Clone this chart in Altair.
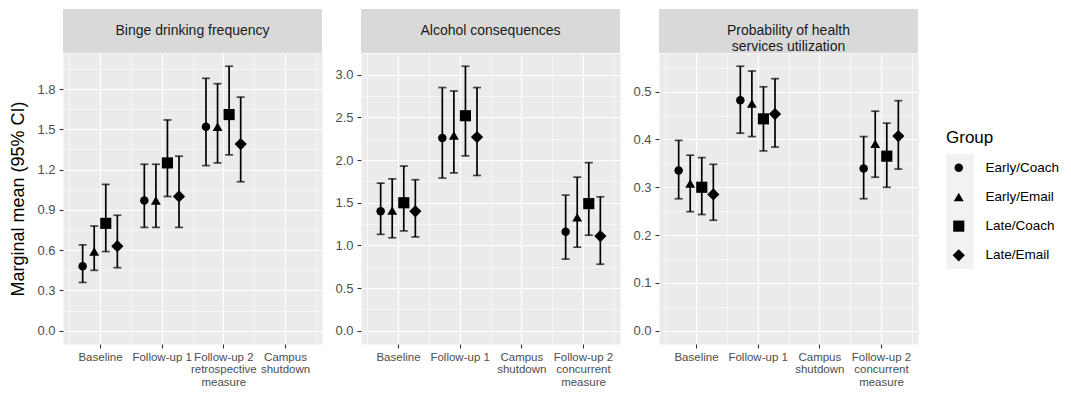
import json
import numpy as np
import pandas as pd
import altair as alt

FONT = "Liberation Sans"

groups = ["Early/Coach", "Early/Email", "Late/Coach", "Late/Email"]
group_shapes = ["circle", "triangle-up", "square", "diamond"]
group_sizes = [72, 150, 58, 64]

# ---- Panel 1: Binge drinking frequency
binge_title = "Binge drinking frequency"
binge_axis = ["Baseline", "Follow-up 1", "Follow-up 2\nretrospective\nmeasure", "Campus\nshutdown"]
binge_times = ["Baseline", "Follow-up 1", "Follow-up 2\nretrospective\nmeasure"]
binge_mean = [[0.48, 0.59, 0.80, 0.63],
              [0.97, 0.97, 1.25, 1.00],
              [1.52, 1.52, 1.61, 1.39]]
binge_low = [[0.36, 0.45, 0.59, 0.47],
             [0.77, 0.77, 1.00, 0.77],
             [1.23, 1.25, 1.31, 1.11]]
binge_high = [[0.64, 0.78, 1.09, 0.86],
              [1.24, 1.24, 1.57, 1.30],
              [1.88, 1.84, 1.97, 1.74]]
binge_ticks = [0.0, 0.3, 0.6, 0.9, 1.2, 1.5, 1.8]

# ---- Panel 2: Alcohol consequences
alc_title = "Alcohol consequences"
alc_axis = ["Baseline", "Follow-up 1", "Campus\nshutdown", "Follow-up 2\nconcurrent\nmeasure"]
alc_times = ["Baseline", "Follow-up 1", "Follow-up 2\nconcurrent\nmeasure"]
alc_mean = [[1.40, 1.41, 1.50, 1.40],
            [2.26, 2.29, 2.52, 2.27],
            [1.16, 1.33, 1.49, 1.11]]
alc_low = [[1.13, 1.09, 1.17, 1.10],
           [1.79, 1.85, 2.05, 1.82],
           [0.84, 0.98, 1.12, 0.78]]
alc_high = [[1.73, 1.78, 1.93, 1.77],
            [2.85, 2.81, 3.10, 2.85],
            [1.59, 1.80, 1.97, 1.57]]
alc_ticks = [0.0, 0.5, 1.0, 1.5, 2.0, 2.5, 3.0]

# ---- Panel 3: Probability of health services utilization
hs_title = "Probability of health\nservices utilization"
hs_axis = ["Baseline", "Follow-up 1", "Campus\nshutdown", "Follow-up 2\nconcurrent\nmeasure"]
hs_times = ["Baseline", "Follow-up 1", "Follow-up 2\nconcurrent\nmeasure"]
hs_mean = [[0.335, 0.308, 0.300, 0.285],
           [0.482, 0.475, 0.443, 0.453],
           [0.339, 0.391, 0.365, 0.407]]
hs_low = [[0.276, 0.249, 0.243, 0.231],
          [0.413, 0.406, 0.376, 0.384],
          [0.276, 0.321, 0.300, 0.338]]
hs_high = [[0.398, 0.367, 0.362, 0.348],
           [0.553, 0.543, 0.510, 0.527],
           [0.406, 0.459, 0.434, 0.481]]
hs_ticks = [0.0, 0.1, 0.2, 0.3, 0.4, 0.5]

y_title = "Marginal mean (95% CI)"

W, H, STRIP = 259, 291, 44
dodge_width = 0.75
offsets = (np.arange(len(groups)) - (len(groups) - 1) / 2) * dodge_width / len(groups)


def x_label_expr(labels):
    expr = "''"
    for i in range(len(labels), 0, -1):
        lines = labels[i - 1].split("\n")
        expr = f"datum.value == {i} ? {json.dumps(lines)} : ({expr})"
    return expr


def panel(title, axis_labels, times, mean, low, high, ticks, ytitle=None, legend=False):
    rows = []
    for ti, t in enumerate(times):
        pos = axis_labels.index(t) + 1
        for gi, g in enumerate(groups):
            rows.append(dict(group=g, x=pos + offsets[gi], mean=mean[ti][gi],
                             lo=low[ti][gi], hi=high[ti][gi]))
    df = pd.DataFrame(rows)
    ymax = float(df["hi"].max())
    pad = 0.05 * ymax
    ydom = [-pad, ymax + pad]
    step = ticks[1] - ticks[0]
    minors = [t + step / 2 for t in ticks] + [ticks[0] - step / 2]
    minors = [m for m in minors if ydom[0] <= m <= ydom[1]]
    yvals = sorted(ticks + minors)
    ytest = f"indexof({json.dumps(ticks)}, datum.value) >= 0"

    n = len(axis_labels)
    xvals = [k / 2 for k in range(1, 2 * n + 2)]
    xtest = "datum.value % 1 == 0"

    xenc = alt.X(
        "x:Q",
        scale=alt.Scale(domain=[0.4, n + 0.6], nice=False, zero=False),
        axis=alt.Axis(
            values=xvals, labelExpr=x_label_expr(axis_labels), title=None,
            gridColor="white",
            gridWidth={"condition": {"test": xtest, "value": 1.1}, "value": 0.55},
            tickOpacity={"condition": {"test": xtest, "value": 1}, "value": 0},
            tickSize=4, tickColor="#333333", tickWidth=1.1, domain=False,
            labelFontSize=11.5, labelColor="#4D4D4D", labelFont=FONT,
            labelLineHeight=12.5, labelPadding=3, labelOverlap=False,
            labelFlush=False, labelBaseline="top", labelAlign="center",
        ),
    )
    yaxis = alt.Axis(
        values=yvals,
        labelExpr=f"{ytest} ? format(datum.value, '.1f') : ''",
        title=ytitle, titleFont=FONT, titleFontSize=18, titleFontWeight="normal",
        titleColor="black", titlePadding=6,
        gridColor="white",
        gridWidth={"condition": {"test": ytest, "value": 1.1}, "value": 0.55},
        tickOpacity={"condition": {"test": ytest, "value": 1}, "value": 0},
        tickSize=4, tickColor="#333333", tickWidth=1.1, domain=False,
        labelFontSize=13, labelColor="#4D4D4D", labelFont=FONT, labelPadding=4,
        labelOverlap=False, minExtent=30, maxExtent=30,
    )
    yscale = alt.Scale(domain=ydom, nice=False, zero=False)

    sdf = pd.DataFrame({"title": [title]})
    strip_rect = alt.Chart(sdf).mark_rect(color="#D9D9D9").encode(
        x=alt.value(0), x2=alt.value(W), y=alt.value(-STRIP), y2=alt.value(0))
    strip_text = alt.Chart(sdf).mark_text(
        lineBreak="\n", fontSize=14, color="#1A1A1A", font=FONT, lineHeight=16,
        baseline="middle", align="center").encode(
        text="title:N", x=alt.value(W / 2), y=alt.value(-STRIP / 2))

    err = alt.Chart(df).mark_errorbar(ticks=True, size=8, thickness=1.7, color="black").encode(
        x=xenc,
        y=alt.Y("lo:Q", scale=yscale, axis=yaxis),
        y2="hi:Q",
    )
    pts = alt.Chart(df).mark_point(filled=True, opacity=1, color="black", strokeWidth=0).encode(
        x=xenc,
        y=alt.Y("mean:Q", scale=yscale, axis=yaxis),
        shape=alt.Shape("group:N", scale=alt.Scale(domain=groups, range=group_shapes),
                        legend=alt.Legend(title="Group")),
        size=alt.Size("group:N", scale=alt.Scale(domain=groups, range=group_sizes),
                      legend=alt.Legend(title="Group")),
    )
    layers = [strip_rect, strip_text]
    if legend:
        key_bg = alt.Chart(sdf).mark_rect(color="#F2F2F2").encode(
            x=alt.value(W + 28), x2=alt.value(W + 56),
            y=alt.value(101), y2=alt.value(216))
        layers.append(key_bg)
    layers += [err, pts]
    return alt.layer(*layers).properties(width=W, height=H)


p1 = panel(binge_title, binge_axis, binge_times, binge_mean, binge_low, binge_high,
           binge_ticks, ytitle=y_title)
p2 = panel(alc_title, alc_axis, alc_times, alc_mean, alc_low, alc_high, alc_ticks)
p3 = panel(hs_title, hs_axis, hs_times, hs_mean, hs_low, hs_high, hs_ticks, legend=True)

chart = alt.hconcat(p1, p2, p3, spacing=7, padding=0).configure_view(
    fill="#EBEBEB", stroke="transparent"
).configure_legend(
    orient="none", legendX=883, legendY=77,
    titleFont=FONT, titleFontSize=17, titleFontWeight="normal", titleColor="black",
    titlePadding=14, labelFont=FONT, labelFontSize=13.5, labelColor="black",
    labelOffset=20, rowPadding=14.2, symbolOffset=6, padding=0,
    symbolFillColor="black", symbolStrokeColor="black", symbolStrokeWidth=0,
)

chart.save("out.html", embed_options={"renderer": "svg", "actions": False})
